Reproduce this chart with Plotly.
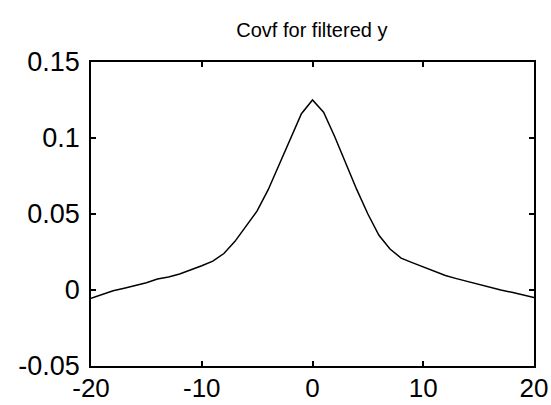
import plotly.graph_objects as go

lags = list(range(-20, 21))
covf = [-0.0055, -0.003, -0.0005, 0.0012, 0.0028, 0.0048, 0.0072, 0.0085, 0.0105, 0.013,
        0.016, 0.019, 0.024, 0.032, 0.042, 0.052, 0.066, 0.083, 0.100, 0.116,
        0.125,
        0.117, 0.101, 0.083, 0.066, 0.050, 0.036, 0.027, 0.021, 0.018, 0.015,
        0.012, 0.0095, 0.0075, 0.0055, 0.0037, 0.002, 0.0, -0.0015, -0.003, -0.005]

x_ticks = [-20, -10, 0, 10, 20]
x_ticktext = ["-20", "-10", "0", "10", "20"]
y_ticks = [-0.05, 0, 0.05, 0.1, 0.15]
y_ticktext = ["-0.05", "0", "0.05", "0.1", "0.15"]

fig = go.Figure()
fig.add_trace(go.Scatter(x=lags, y=covf, mode="lines",
                         line=dict(color="black", width=1.5), showlegend=False))

axis_common = dict(showgrid=False, zeroline=False, showline=True, linecolor="black",
                   linewidth=1.5, mirror="allticks", ticks="inside", ticklen=5,
                   tickwidth=1.5, tickcolor="black", automargin=False)

fig.update_xaxes(range=[-20, 20], tickvals=x_ticks, ticktext=x_ticktext,
                 tickfont=dict(family="Liberation Sans, Arial", size=26, color="black"),
                 ticklabelstandoff=-2, **axis_common)
fig.update_yaxes(range=[-0.05, 0.15], tickvals=y_ticks, ticktext=y_ticktext,
                 tickfont=dict(family="Liberation Sans, Arial", size=27, color="black"),
                 ticklabelstandoff=4, **axis_common)

fig.update_layout(
    width=551, height=405,
    margin=dict(l=91, r=17, t=62, b=39),
    paper_bgcolor="white", plot_bgcolor="white",
    title=dict(text="Covf for filtered y", x=0.566, xanchor="center", y=0.925, yanchor="middle",
               font=dict(family="Liberation Sans, Arial", size=20, color="black")),
)

fig.write_html("out.html")
